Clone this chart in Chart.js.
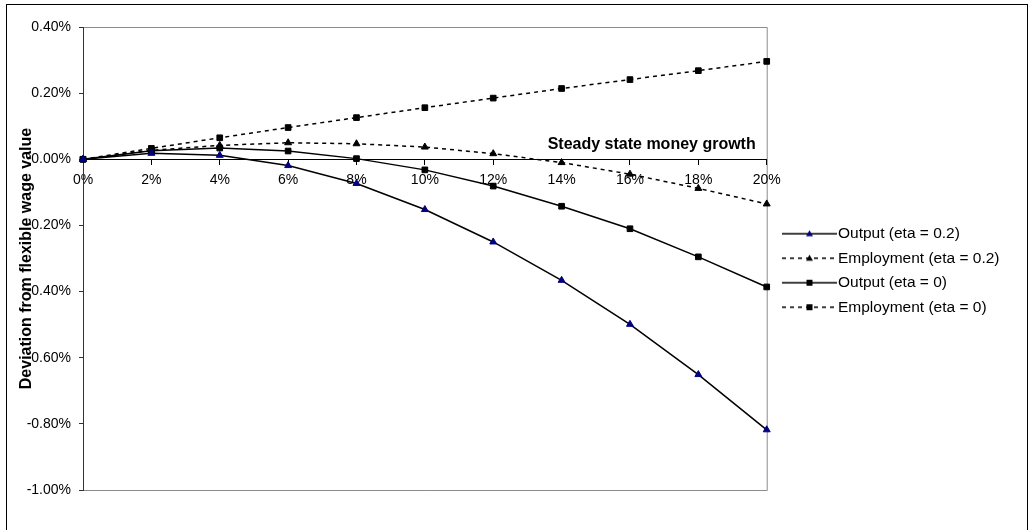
<!DOCTYPE html>
<html>
<head>
<meta charset="utf-8">
<script src="https://cdn.jsdelivr.net/npm/chart.js@4"></script>
<style>
  body { margin: 0; background: #fff; }
  #wrap { position: relative; width: 1028px; height: 530px; }
  #frame { position: absolute; left: 6px; top: 4px; width: 1020px; height: 530px; border: 1px solid #000; pointer-events: none; }
</style>
</head>
<body>
<div id="wrap">
  <canvas id="chart"></canvas>
  <div id="frame"></div>
</div>
<script>
const growth = ["0%", "2%", "4%", "6%", "8%", "10%", "12%", "14%", "16%", "18%", "20%"];

// deviation from flexible wage value, in percent
const outputEta02 = [0, 0.018, 0.012, -0.019, -0.073, -0.152, -0.25, -0.366, -0.499, -0.651, -0.818];
const employmentEta02 = [0, 0.027, 0.042, 0.05, 0.047, 0.037, 0.017, -0.01, -0.045, -0.088, -0.135];
const outputEta0 = [0, 0.026, 0.034, 0.025, 0.002, -0.032, -0.081, -0.142, -0.21, -0.295, -0.386];
const employmentEta0 = [0, 0.033, 0.065, 0.096, 0.126, 0.156, 0.185, 0.214, 0.241, 0.268, 0.296];

const yMin = -1.0;
const yMax = 0.4;
const yStep = 0.2;

const xTitle = "Steady state money growth";
const yTitle = "Deviation from flexible wage value";

Chart.defaults.font.family = '"Liberation Sans", Arial, sans-serif';
Chart.defaults.font.size = 14;
Chart.defaults.color = "#000";

// little legend pictures: line with the marker in the middle
const makeIcon = (dashed, marker, color) => {
  const c = document.createElement("canvas");
  c.width = 70;
  c.height = 10;
  const g = c.getContext("2d");
  g.strokeStyle = "#000";
  g.lineWidth = 1.5;
  g.setLineDash(dashed ? [4, 4] : []);
  g.beginPath();
  g.moveTo(14, 5);
  g.lineTo(69, 5);
  g.stroke();
  g.setLineDash([]);
  g.fillStyle = color;
  g.beginPath();
  if (marker === "triangle") {
    g.moveTo(41.5, 1.5);
    g.lineTo(45, 7.5);
    g.lineTo(38, 7.5);
    g.closePath();
  } else {
    g.rect(38.5, 2, 6, 6);
  }
  g.fill();
  return c;
};

const icons = [
  makeIcon(false, "triangle", "#000080"),
  makeIcon(true, "triangle", "#000"),
  makeIcon(false, "rect", "#000"),
  makeIcon(true, "rect", "#000"),
];

const plotFrame = {
  id: "plotFrame",
  beforeDraw(chart) {
    const { ctx, chartArea: a } = chart;
    ctx.save();
    ctx.strokeStyle = "#8c8c8c";
    ctx.lineWidth = 1;
    ctx.beginPath();
    ctx.moveTo(a.left, a.top + 0.5);
    ctx.lineTo(a.right + 0.5, a.top + 0.5);
    ctx.lineTo(a.right + 0.5, a.bottom + 0.5);
    ctx.lineTo(a.left, a.bottom + 0.5);
    ctx.stroke();
    ctx.restore();
  },
  afterLayout(chart) {
    // legend sits a bit lower than centred
    chart.legend.top += 12;
    chart.legend.bottom += 12;
  },
  afterDraw(chart) {
    const { ctx, chartArea: a, scales } = chart;
    ctx.save();
    ctx.fillStyle = "#000";
    ctx.font = 'bold 16px "Liberation Sans", Arial, sans-serif';
    ctx.textAlign = "right";
    ctx.textBaseline = "middle";
    ctx.fillText(xTitle, a.right - 11, scales.y.getPixelForValue(0) - 15);
    ctx.translate(26.5, (a.top + a.bottom) / 2);
    ctx.rotate(-Math.PI / 2);
    ctx.textAlign = "center";
    ctx.fillText(yTitle, 0, 0);
    ctx.restore();
  },
};

const series = (label, data, dashed, style, color) => ({
  label,
  data,
  borderColor: "#000",
  borderWidth: 1.5,
  borderDash: dashed ? [4, 4] : [],
  pointStyle: style,
  pointRadius: 4,
  pointBorderWidth: 1,
  pointBackgroundColor: color,
  pointBorderColor: color,
  tension: 0,
  fill: false,
  clip: false,
});

new Chart(document.getElementById("chart"), {
  type: "line",
  data: {
    labels: growth,
    datasets: [
      series("Output (eta = 0.2)", outputEta02, false, "triangle", "#000080"),
      series("Employment (eta = 0.2)", employmentEta02, true, "triangle", "#000"),
      series("Output (eta = 0)", outputEta0, false, "rect", "#000"),
      series("Employment (eta = 0)", employmentEta0, true, "rect", "#000"),
    ],
  },
  options: {
    responsive: true,
    maintainAspectRatio: false,
    animation: false,
    layout: {
      padding: { left: 0, top: 27, right: 18.5, bottom: 40 },
    },
    plugins: {
      tooltip: { enabled: false },
      legend: {
        position: "right",
        labels: {
          font: { size: 15.5 },
          color: "#000",
          padding: 9,
          usePointStyle: true,
          pointStyleWidth: 54.5,
          generateLabels: (chart) =>
            Chart.defaults.plugins.legend.labels.generateLabels(chart).map((item, i) => ({
              ...item,
              pointStyle: icons[i],
            })),
        },
      },
    },
    scales: {
      x: {
        type: "category",
        position: { y: 0 },
        offset: false,
        grid: {
          drawOnChartArea: false,
          tickLength: 5,
          tickColor: "#000",
        },
        border: { color: "#000", width: 1 },
        ticks: { padding: 7, maxRotation: 0, autoSkip: false },
        afterFit: (scale) => {
          scale.height = 0;
        },
      },
      y: {
        min: yMin,
        max: yMax,
        grid: {
          drawOnChartArea: false,
          tickLength: 4,
          tickColor: "#333",
        },
        border: { color: "#333", width: 1 },
        ticks: {
          stepSize: yStep,
          padding: 8,
          callback: (value) => `${value.toFixed(2)}%`,
        },
        afterFit: (scale) => {
          scale.width = 83;
        },
      },
    },
  },
  plugins: [plotFrame],
});
</script>
</body>
</html>
